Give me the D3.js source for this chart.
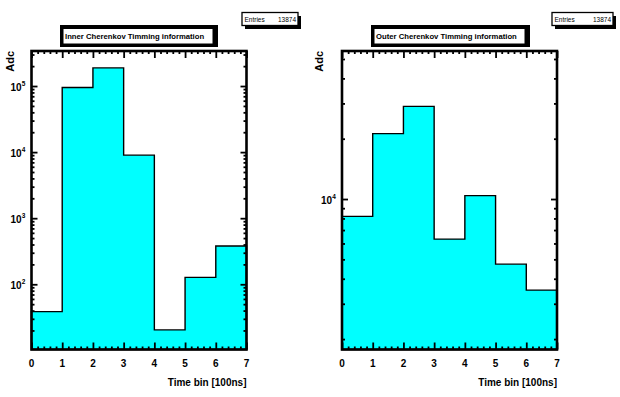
<!DOCTYPE html>
<html>
<head>
<meta charset="utf-8">
<script src="https://cdn.jsdelivr.net/npm/d3@7"></script>
<style>
  body { margin: 0; background: #fff; }
  svg { display: block; font-family: "Liberation Sans", Arial, sans-serif; }
</style>
</head>
<body>
<svg id="chart" width="620" height="397"></svg>
<script>
// data
const bins = [0, 1, 2, 3, 4, 5, 6, 7];
const innerCounts = [38.5, 95000, 188000, 9000, 20.4, 127, 380];
const outerCounts = [8190, 21200, 29000, 6310, 10400, 4730, 3510];
const innerRange = [10.3, 339000];
const outerRange = [1774, 54800];
const innerDecades = [100, 1000, 10000, 100000];
const outerDecades = [10000];
const xTicks = [0, 1, 2, 3, 4, 5, 6, 7];
const titles = ["Inner Cherenkov Timming information", "Outer Cherenkov Timming information"];
const entries = [13874, 13874];

const svg = d3.select("#chart");

const panels = [
  { counts: innerCounts, range: innerRange, decades: innerDecades, title: titles[0], entries: entries[0],
    left: 31.5, right: 246.5, top: 51, bottom: 349.5, titleBox: [60, 218], statBox: [242, 298], adcX: 14 },
  { counts: outerCounts, range: outerRange, decades: outerDecades, title: titles[1], entries: entries[1],
    left: 342, right: 557, top: 51, bottom: 349.5, titleBox: [371, 530], statBox: [552, 613], adcX: 323 }
];

panels.forEach(drawPanel);

function drawPanel(p) {
  const x = d3.scaleLinear().domain([bins[0], bins[bins.length - 1]]).range([p.left, p.right]);
  const y = d3.scaleLog().domain(p.range).range([p.bottom, p.top]);

  // histogram fill + outline
  const pts = [[bins[0], p.range[0]]];
  p.counts.forEach((c, i) => { pts.push([bins[i], c]); pts.push([bins[i + 1], c]); });
  pts.push([bins[bins.length - 1], p.range[0]]);
  const line = d3.line().x(d => x(d[0])).y(d => y(d[1]));
  svg.append("path").attr("d", line(pts) + "Z").attr("fill", "#00ffff").attr("stroke", "#000").attr("stroke-width", 1.4);

  // minor ticks x (every 0.2)
  const xMinor = d3.range(0, 35).map(i => i / 5).filter(v => v % 1 !== 0);
  const mk = (axis, tr) => svg.append("g").attr("transform", tr).call(axis)
    .call(g => g.select(".domain").remove())
    .call(g => g.selectAll("line").attr("stroke", "#000").attr("stroke-width", 1.8));

  mk(d3.axisBottom(x).tickValues(xMinor).tickSize(-3).tickFormat(""), `translate(0,${p.bottom})`);
  mk(d3.axisBottom(x).tickValues(xTicks).tickSize(-7).tickFormat(""), `translate(0,${p.bottom})`);
  mk(d3.axisTop(x).tickValues(xMinor).tickSize(-3).tickFormat(""), `translate(0,${p.top})`);
  mk(d3.axisTop(x).tickValues(xTicks).tickSize(-7).tickFormat(""), `translate(0,${p.top})`);

  // y log ticks
  const lo = Math.floor(Math.log10(p.range[0])), hi = Math.ceil(Math.log10(p.range[1]));
  const yMinor = [];
  for (let e = lo; e < hi; e++) for (let m = 2; m <= 9; m++) {
    const v = m * Math.pow(10, e);
    if (v > p.range[0] && v < p.range[1]) yMinor.push(v);
  }
  const yMajor = d3.range(lo, hi + 1).map(e => Math.pow(10, e)).filter(v => v > p.range[0] && v < p.range[1]);
  mk(d3.axisLeft(y).tickValues(yMinor).tickSize(-3).tickFormat(""), `translate(${p.left},0)`);
  mk(d3.axisLeft(y).tickValues(yMajor).tickSize(-6).tickFormat(""), `translate(${p.left},0)`);
  mk(d3.axisRight(y).tickValues(yMinor).tickSize(-3).tickFormat(""), `translate(${p.right},0)`);
  mk(d3.axisRight(y).tickValues(yMajor).tickSize(-6).tickFormat(""), `translate(${p.right},0)`);

  // frame
  svg.append("rect").attr("x", p.left).attr("y", p.top)
    .attr("width", p.right - p.left).attr("height", p.bottom - p.top)
    .attr("fill", "none").attr("stroke", "#000").attr("stroke-width", 2.6);

  // x labels
  svg.append("g").selectAll("text").data(xTicks).join("text")
    .attr("x", d => x(d)).attr("y", p.bottom + 17)
    .attr("text-anchor", "middle").attr("font-size", 10).attr("font-weight", "bold").text(d => d);

  // y labels 10^n
  p.decades.forEach(v => {
    const t = svg.append("text").attr("x", p.left - 21).attr("y", y(v) + 5)
      .attr("font-size", 10).attr("font-weight", "bold");
    t.append("tspan").text("10");
    t.append("tspan").attr("dy", -5).attr("font-size", 6.5).text(Math.round(Math.log10(v)));
  });

  // axis titles
  svg.append("text").attr("x", p.right).attr("y", 386).attr("text-anchor", "end")
    .attr("font-size", 10).attr("font-weight", "bold").text("Time bin [100ns]");
  svg.append("text").attr("transform", `translate(${p.adcX},${p.top}) rotate(-90)`)
    .attr("text-anchor", "end").attr("font-size", 11).attr("font-weight", "bold").text("Adc");

  // title box
  const [tx0, tx1] = p.titleBox;
  svg.append("rect").attr("x", tx0).attr("y", 25).attr("width", tx1 - tx0).attr("height", 22).attr("fill", "#000");
  svg.append("rect").attr("x", tx0 + 3.5).attr("y", 29).attr("width", tx1 - tx0 - 9).attr("height", 14.5).attr("fill", "#fff");
  svg.append("text").attr("x", tx0 + 5).attr("y", 39).attr("font-size", 7.7).attr("font-weight", "bold").text(p.title);

  // stats box with shadow
  const [sx0, sx1] = p.statBox;
  svg.append("rect").attr("x", sx0 + 3).attr("y", 16).attr("width", sx1 - sx0).attr("height", 13).attr("fill", "#000");
  svg.append("rect").attr("x", sx0).attr("y", 12.5).attr("width", sx1 - sx0).attr("height", 13)
    .attr("fill", "#fff").attr("stroke", "#000").attr("stroke-width", 1.3);
  svg.append("text").attr("x", sx0 + 2.5).attr("y", 22).attr("font-size", 6.5).text("Entries");
  svg.append("text").attr("x", sx1 - 2).attr("y", 22).attr("font-size", 6.5).attr("text-anchor", "end").text(p.entries);
}
</script>
</body>
</html>
